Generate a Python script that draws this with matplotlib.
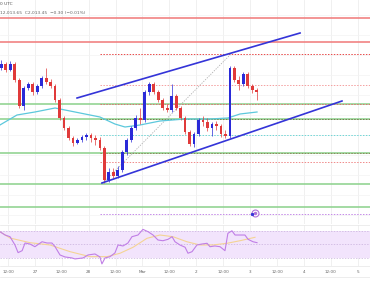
"""
ETH/USD 2h chart with rising channel, fib levels and RSI panel.
"""

import matplotlib
matplotlib.use("Agg")
import matplotlib.pyplot as plt

# -------------------------
# Data (hours counted from Feb 26 00:00)
# -------------------------

candle_hours = [9, 11, 13, 15, 17, 19, 21, 23, 25, 27, 29, 31, 33, 35, 37, 39, 41, 43, 45, 47,
                49, 51, 53, 55, 57, 59, 61, 63, 65, 67, 69, 71, 73, 75, 77, 79, 81, 83, 85, 87,
                89, 91, 93, 95, 97, 99, 101, 103, 105, 107, 109, 111, 113, 115, 117, 119, 121, 123]

opens = [2037, 2041, 2035, 2041, 2025, 1999, 2017, 2021, 2013, 2019, 2027, 2023, 2019, 2005, 1987,
         1977, 1967, 1962, 1965, 1968, 1970, 1967, 1965, 1957, 1925, 1933, 1929, 1935, 1953, 1965,
         1977, 1987, 1985, 2013, 2021, 2013, 2005, 1997, 1995, 2009, 1997, 1987, 1973, 1961, 1971,
         1985, 1983, 1977, 1981, 1979, 1971, 1969, 2037, 2025, 2021, 2031, 2019, 2015]
highs = [2045, 2043, 2044, 2043, 2027, 2019, 2023, 2023, 2021, 2029, 2037, 2026, 2021, 2007, 1989,
         1979, 1969, 1967, 1970, 1972, 1972, 1970, 1968, 1959, 1937, 1937, 1939, 1955, 1967, 1979,
         1990, 1997, 2015, 2023, 2023, 2015, 2007, 2001, 2021, 2011, 1999, 1989, 1975, 1973, 1987,
         1989, 1987, 1983, 1984, 1981, 1975, 2039, 2039, 2029, 2033, 2033, 2021, 2017]
lows = [2035, 2033, 2034, 2023, 1997, 1995, 2015, 2010, 2011, 2017, 2021, 2017, 2003, 1985, 1975,
        1965, 1959, 1961, 1963, 1965, 1963, 1960, 1955, 1922, 1923, 1927, 1927, 1933, 1950, 1963,
        1975, 1981, 1983, 2010, 2011, 2003, 1995, 1993, 1993, 1995, 1985, 1971, 1959, 1958, 1969,
        1979, 1974, 1969, 1975, 1968, 1967, 1967, 2023, 2015, 2019, 2017, 2012, 2005]
closes = [2041, 2035, 2041, 2025, 1999, 2017, 2021, 2013, 2019, 2027, 2023, 2019, 2005, 1987, 1977,
          1967, 1962, 1965, 1968, 1970, 1967, 1965, 1957, 1925, 1933, 1929, 1935, 1953, 1965, 1977,
          1987, 1985, 2013, 2021, 2013, 2005, 1997, 1995, 2009, 1997, 1987, 1973, 1961, 1971, 1985,
          1983, 1977, 1981, 1979, 1971, 1969, 2037, 2025, 2021, 2031, 2019, 2015, 2013]

# 100 SMA (cyan)
sma_hours = [8.4, 16.0, 24.0, 33.0, 41.9, 53.0, 59.7, 64.2, 70.9, 79.8, 91.0, 102.1, 110.1, 115.5, 123.1]
sma_values = [1980, 1990, 1993, 1997, 1993, 1988, 1981, 1978, 1980, 1984, 1986, 1986, 1987, 1991, 1993]

# horizontal levels: full-width support/resistance and fib levels from the swing low
red_levels = [2087, 2063]
green_levels = [2001, 1986, 1952, 1921, 1898]
fib_levels = [2051, 2020, 2001, 1986, 1970, 1952, 1943, 1891]
fib_colors = ["#e84a4a", "#f4a0a0", "#e07070", "#7a7a50", "#6fd6d6", "#8a8a5a", "#f08a8a", "#c58ae8"]
fib_start = 53.0

# trend lines (hour, price)
upper_channel = ([42.8, 142.3], [2007, 2072])
lower_channel = ([53.9, 161.0], [1922, 2004])
fib_diagonal = ([54.4, 111.9], [1922, 2052])

alert_hour, alert_price = 122.2, 1892

# RSI
rsi_hours = [8.4, 10.7, 12.9, 15.1, 16.5, 18.3, 19.6, 21.8, 24.0, 27.2, 29.4, 31.6, 33.0, 35.2,
             37.4, 40.5, 41.9, 45.5, 47.7, 50.8, 53.0, 53.9, 55.3, 57.5, 59.7, 61.1, 63.3, 65.5,
             67.3, 70.0, 72.2, 74.5, 76.7, 78.9, 81.1, 83.4, 85.2, 86.5, 88.7, 91.0, 92.3, 94.1,
             96.3, 98.5, 100.8, 102.1, 104.3, 106.6, 108.8, 110.1, 111.9, 113.3, 115.5, 117.7,
             119.1, 121.3, 123.1]
rsi_values = [69.0, 64.1, 61.6, 49.3, 37.9, 40.8, 52.2, 50.7, 46.7, 54.1, 52.2, 52.2, 46.7, 34.4,
              31.5, 30.0, 28.5, 30.0, 34.4, 35.9, 31.5, 21.1, 30.0, 31.9, 37.4, 49.3, 47.8, 52.2,
              61.6, 64.1, 72.5, 69.0, 64.1, 56.7, 55.6, 57.7, 61.6, 54.1, 49.3, 45.9, 37.0, 39.3,
              49.3, 50.7, 51.8, 46.7, 47.8, 46.7, 40.8, 66.6, 70.4, 64.1, 64.1, 64.1, 57.7, 54.1,
              52.7]
rsi_ma_hours = [8.4, 12.9, 21.8, 30.7, 39.7, 48.6, 56.2, 62.0, 67.8, 74.0, 79.8, 85.6, 91.8,
                97.6, 103.4, 109.7, 115.5, 122.2]
rsi_ma_values = [69.0, 59.6, 52.7, 49.3, 39.3, 31.9, 31.9, 37.0, 45.9, 59.2, 64.1, 61.6, 54.1,
                 49.3, 49.3, 51.8, 55.6, 60.7]

tick_hours = [12, 24, 36, 48, 60, 72, 84, 96, 108, 120, 132, 144, 156, 168]
tick_labels = ["12:00", "27", "12:00", "28", "12:00", "Mar", "12:00", "2",
               "12:00", "3", "12:00", "4", "12:00", "5"]

UP = "#2a2ad8"
DOWN = "#e03a3a"
X_MIN, X_MAX = 8.43, 173.5

# -------------------------
# Figure
# -------------------------

fig = plt.figure(figsize=(3.7, 2.97), dpi=100)
ax = fig.add_axes([0, 1 - 224 / 297, 1, 224 / 297])
ax_rsi = fig.add_axes([0, 1 - 266 / 297, 1, 41 / 297])

for a in (ax, ax_rsi):
    a.set_xlim(X_MIN, X_MAX)
    for s in a.spines.values():
        s.set_visible(False)
    a.tick_params(length=0, labelleft=False, labelbottom=False)
    for h in tick_hours:
        a.axvline(h, color="#eeeeee", lw=0.6, zorder=0)

ax.set_ylim(1881, 2105)
for p in range(1890, 2105, 20):
    ax.axhline(p, color="#f3f3f3", lw=0.5, zorder=0)

# levels
for p in red_levels:
    ax.axhline(p, color="#f07878", lw=1.1, zorder=1)
for p in green_levels:
    ax.axhline(p, color="#93d493", lw=1.2, zorder=1)
for p, c in zip(fib_levels, fib_colors):
    ax.hlines(p, fib_start, X_MAX, color=c, lw=0.7, linestyles=(0, (1.5, 1.5)), zorder=2)

ax.plot(*fib_diagonal, color="#b0b0b0", lw=0.6, ls=(0, (1.5, 1.5)), zorder=2)

# 100 SMA
ax.plot(sma_hours, sma_values, color="#5cc8dc", lw=0.9, zorder=3)

# candles
for h, o, hi, lo, c in zip(candle_hours, opens, highs, lows, closes):
    col = UP if c >= o else DOWN
    ax.vlines(h, lo, hi, color=col, lw=0.5, zorder=4)
    ax.bar(h, max(abs(c - o), 0.8), bottom=min(o, c), width=1.25, color=col, zorder=5)

# channel
ax.plot(*upper_channel, color="#3434d8", lw=1.2, zorder=6)
ax.plot(*lower_channel, color="#3434d8", lw=1.2, zorder=6)

# alert marker
ax.plot(alert_hour, alert_price, "o", ms=5, mfc="white", mec="#b070d8", mew=0.8, zorder=7)
ax.plot(alert_hour, alert_price, "o", ms=1.5, color="#b070d8", zorder=8)
ax.plot(alert_hour - 1.3, alert_price - 0.5, "s", ms=1.2, color="#3434d8", zorder=8)

# header
fig.text(0.0, 1 - 4 / 297, "0 UTC", fontsize=3.2, color="#555555", va="center")
fig.text(0.0, 1 - 13 / 297, "12,013.65  C2,013.45  \u22120.30 (\u22120.01%)",
         fontsize=3.2, color="#666666", va="center")

# RSI
ax_rsi.set_ylim(18, 79)
ax_rsi.axhspan(30, 70, color="#f2e4fc", lw=0, zorder=0)
for lvl in (70, 50, 30):
    ax_rsi.axhline(lvl, color="#c8b0dc", lw=0.5, ls=(0, (2, 2)), zorder=1)
ax_rsi.plot(rsi_ma_hours, rsi_ma_values, color="#f4d494", lw=0.8, zorder=2)
ax_rsi.plot(rsi_hours, rsi_values, color="#c07ee6", lw=0.8, zorder=3)

# time axis
for h, lab in zip(tick_hours, tick_labels):
    fig.text((h - X_MIN) / (X_MAX - X_MIN), 1 - 272 / 297, lab,
             fontsize=3.0, color="#666666", ha="center", va="center")
fig.add_artist(plt.Line2D([0, 1], [1 - 225 / 297] * 2, color="#e6e6e6", lw=0.5))
fig.add_artist(plt.Line2D([0, 1], [1 - 266 / 297] * 2, color="#e6e6e6", lw=0.5))
fig.add_artist(plt.Line2D([0, 1], [1 - 277 / 297] * 2, color="#e6e6e6", lw=0.5))

fig.savefig("out.png", dpi=100, facecolor="white")
